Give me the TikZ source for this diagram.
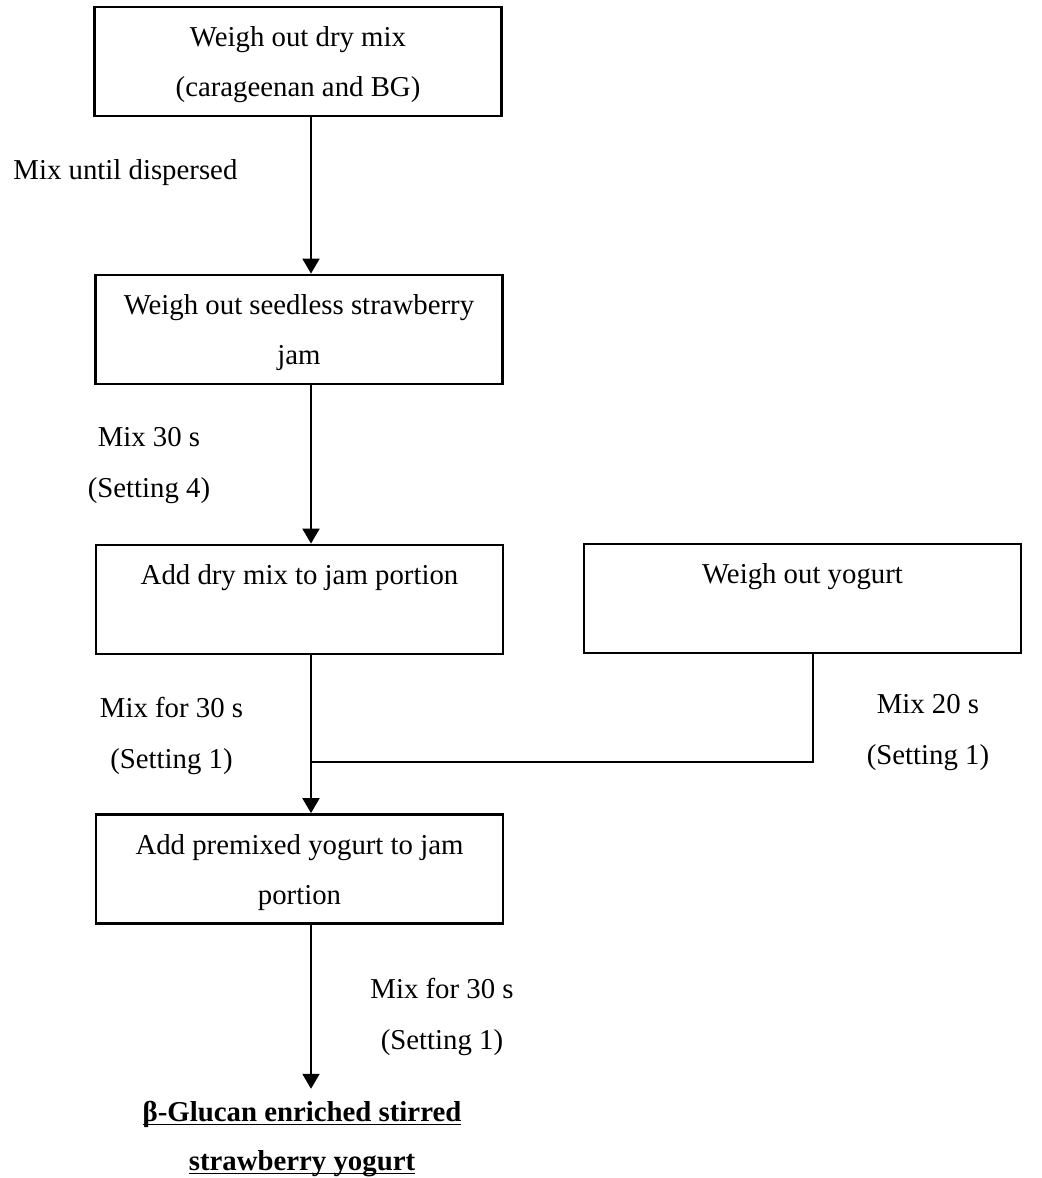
\documentclass[tikz,border=0pt]{standalone}
\usepackage{fontspec}
\setmainfont{Liberation Serif}
\usetikzlibrary{arrows.meta}
\newcommand\myul[1]{\underline{\smash{#1}}\vphantom{#1}}
\begin{document}
\begin{tikzpicture}[x=0.5pt,y=-0.5pt,
  txtfont/.style={font=\fontsize{14.4}{25}\selectfont},
  box/.style={draw, line width=1.4pt, minimum width=203.5pt, minimum height=54.5pt,
    align=center, inner sep=0pt, txtfont},
  lbl/.style={align=center, inner sep=0pt, font=\fontsize{14.4}{25.5}\selectfont},
  arr/.style={line width=1pt, -{Triangle[width=8.5pt,length=7.5pt]}},
  conn/.style={line width=1pt}]
\useasboundingbox[fill=white] (0,0) rectangle (1042,1178);

% boxes
\node[box] (b1) at (298,61.5) {\strut Weigh out dry mix\\\strut (carageenan and BG)};
\node[box] (b2) at (299,329.5) {\strut Weigh out seedless strawberry\\\strut jam};
\node[box] (b3) at (299.5,599.5) {\strut Add dry mix to jam portion\\\strut};
\node[box, minimum width=218.5pt] (b4) at (802.5,598.5) {\strut Weigh out yogurt\\\strut};
\node[box] (b5) at (299.5,869) {\strut Add premixed yogurt to jam\\\strut portion};
\node[lbl, font={\fontsize{14.4}{24.5}\selectfont\bfseries}] (fin) at (302,1139)
  {\myul{β-Glucan enriched stirred}\\\myul{strawberry yogurt}};

% labels
\node[lbl, anchor=west] (l1) at (13,173) {Mix until dispersed};
\node[lbl] (l2) at (149,466) {Mix 30 s\\(Setting 4)};
\node[lbl] (l3) at (171.5,736) {Mix for 30 s\\(Setting 1)};
\node[lbl] (l4) at (928,733) {Mix 20 s\\(Setting 1)};
\node[lbl] (l5) at (442,1017) {Mix for 30 s\\(Setting 1)};

% helper coordinates
\coordinate (ax) at (311,0);
\coordinate (bx) at (813,0);
\coordinate (j) at (311,762);

% connectors
\draw[arr] (b1.south -| ax) -- (b2.north -| ax);
\draw[arr] (b2.south -| ax) -- (b3.north -| ax);
\draw[arr] (b3.south -| ax) -- (b5.north -| ax);
\draw[conn] (b4.south -| bx) |- (j);
\draw[arr, shorten >=6pt] (b5.south -| ax) -- (fin.north -| ax);
\end{tikzpicture}
\end{document}
